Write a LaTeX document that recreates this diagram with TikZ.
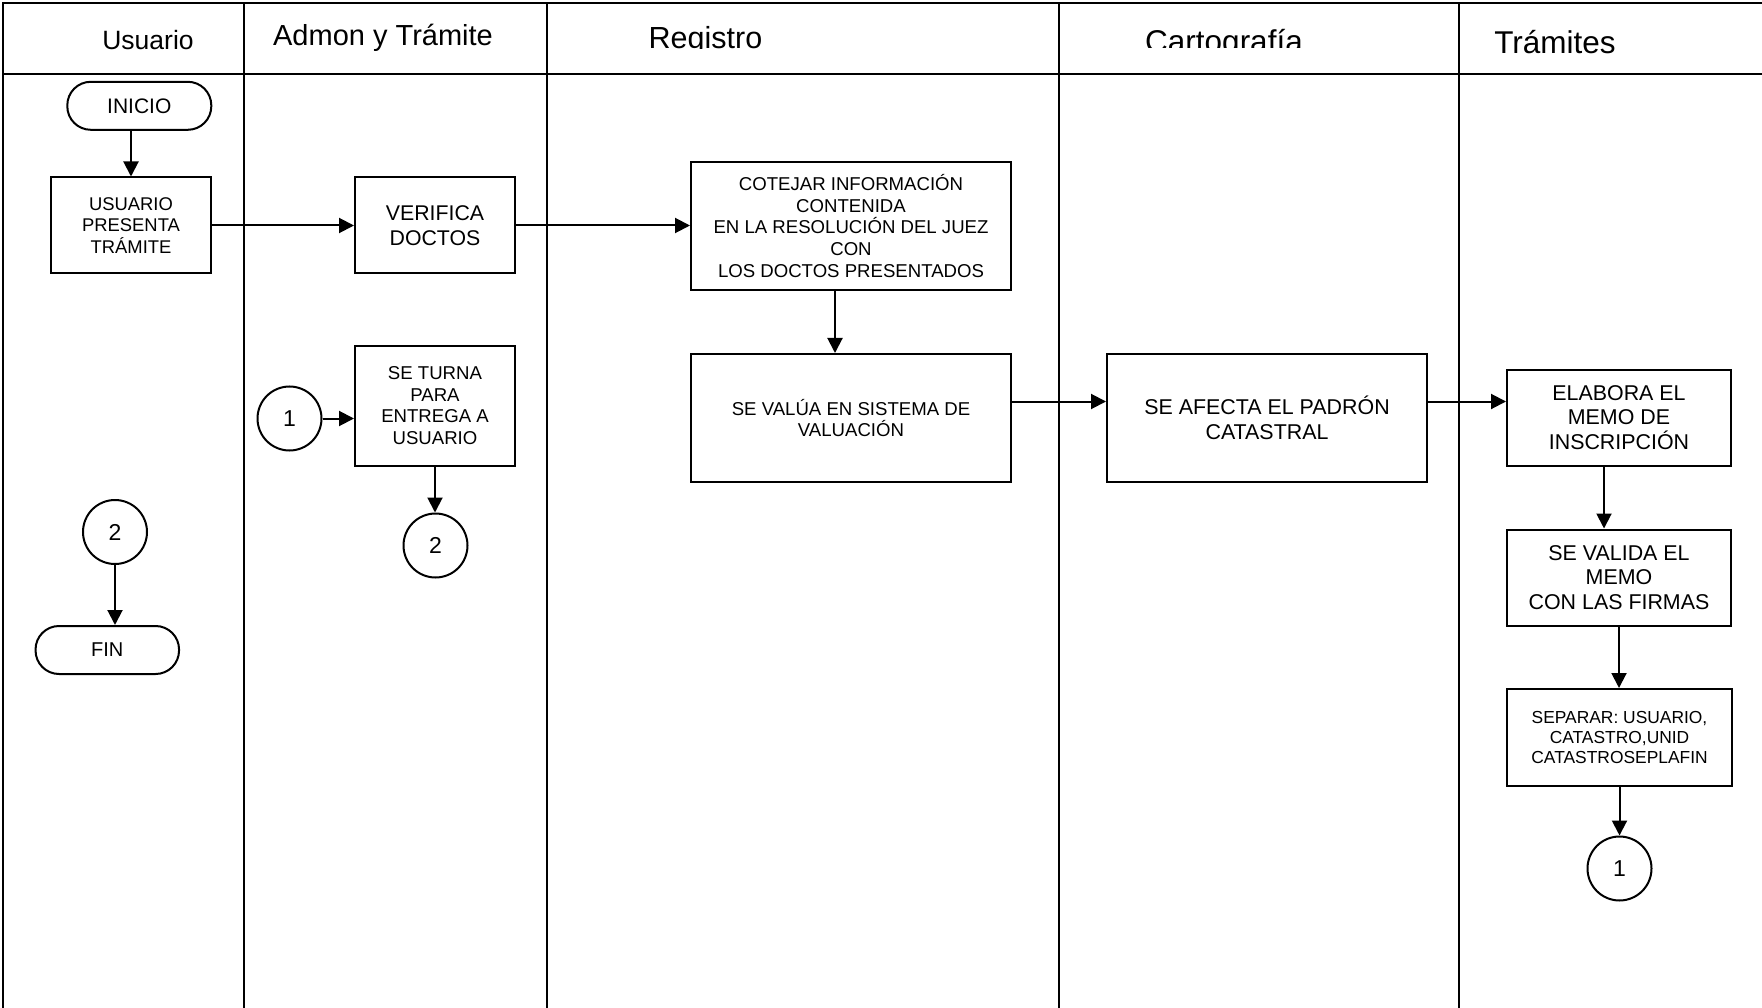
\documentclass[tikz,border=0pt]{standalone}
\usepackage{fontspec}
\setmainfont{Liberation Sans}
\usetikzlibrary{arrows.meta}
\newcommand{\fs}[2]{\fontsize{#1}{#2}\selectfont}
\newcommand{\dn}[1]{\raisebox{-3pt}{#1}}
\tikzset{
  lane/.style={line width=2pt},
  pbox/.style={draw, line width=2pt, rectangle, align=center, inner sep=0pt},
  term/.style={draw, line width=2pt, rectangle, rounded corners=23.5pt, align=center, inner sep=0pt, minimum width=144pt, minimum height=48pt},
  conn/.style={draw, line width=2pt, circle, inner sep=0pt, minimum size=64pt, font=\fs{23}{26}},
  flow/.style={line width=2pt, -{Triangle[length=15pt,width=15pt]}},
  hdr/.style={anchor=base, inner sep=0pt}
}
\begin{document}
\begin{tikzpicture}[x=1pt,y=-1pt]
\useasboundingbox (0,0) rectangle (1762,1008);
% lanes
\draw[lane] (1762,3) -- (3,3) -- (3,1008);
\draw[lane] (3,74) -- (1762,74);
\foreach \xx in {243.5,547,1059,1459} \draw[lane] (\xx,3) -- (\xx,1008);
% headers
\node[hdr, font=\fs{26.5}{30}] (h1) at (148,50) {Usuario};
\node[hdr, font=\fs{29}{32}] (h2) at (383,46) {Admon y Trámite};
\begin{scope}
\clip (548,4) rectangle (1058,49);
\node[hdr, font=\fs{30.5}{34}] (h3) at (705.5,48.3) {Registro};
\end{scope}
\begin{scope}
\clip (1060,4) rectangle (1458,47.5);
\node[hdr, font=\fs{31.5}{35}] (h4) at (1224,52.7) {Cartografía};
\end{scope}
\node[hdr, font=\fs{31.5}{35}] (h5) at (1555,53.3) {Trámites};
% nodes
\node[term, font=\fs{21}{24}] (inicio) at (139.3,105.8) {\dn{INICIO}};
\node[pbox, minimum width=160pt, minimum height=96pt, font=\fs{18.4}{21.2}] (usr) at (131,225.5) {USUARIO\\PRESENTA\\TRÁMITE};
\node[pbox, minimum width=160pt, minimum height=96pt, font=\fs{21.3}{24.7}] (verif) at (435,225.5) {VERIFICA\\DOCTOS};
\node[pbox, minimum width=320pt, minimum height=128pt, font=\fs{18.6}{21.6}] (cotejar) at (851,226) {COTEJAR INFORMACIÓN\\CONTENIDA\\EN LA RESOLUCIÓN DEL JUEZ\\CON\\LOS DOCTOS PRESENTADOS};
\node[pbox, minimum width=320pt, minimum height=128pt, font=\fs{18.6}{21.6}] (valua) at (851,418) {SE VALÚA EN SISTEMA DE\\VALUACIÓN};
\node[pbox, minimum width=320pt, minimum height=128pt, font=\fs{21.4}{24.7}] (afecta) at (1267,418) {SE AFECTA EL PADRÓN\\CATASTRAL};
\node[pbox, minimum width=224pt, minimum height=96pt, font=\fs{21.4}{24.7}] (elabora) at (1619,417.5) {ELABORA EL\\MEMO DE\\INSCRIPCIÓN};
\node[pbox, minimum width=224pt, minimum height=96pt, font=\fs{21.4}{24.7}] (valida) at (1619,577.5) {SE VALIDA EL\\MEMO\\CON LAS FIRMAS};
\node[pbox, minimum width=225pt, minimum height=97pt, font=\fs{17.4}{20.2}] (separar) at (1619.5,737.5) {SEPARAR: USUARIO,\\CATASTRO,UNID\\CATASTROSEPLAFIN};
\node[conn] (c1r) at (1619.5,868.5) {\dn{1}};
\node[conn] (c1l) at (289.5,418.5) {\dn{1}};
\node[pbox, minimum width=160pt, minimum height=120pt, font=\fs{18.6}{21.6}] (turna) at (435,405.7) {SE TURNA\\PARA\\ENTREGA A\\USUARIO};
\node[conn] (c2a) at (435.5,545.5) {\dn{2}};
\node[conn] (c2u) at (115,532) {\dn{2}};
\node[term, minimum width=143.5pt, font=\fs{20}{24}] (fin) at (107.3,650) {\dn{FIN}};
% connectors
\draw[flow] (inicio.south -| usr.north) -- (usr.north);
\draw[flow] (usr.east) -- (verif.west);
\draw[flow] (verif.east) -- (verif.east -| cotejar.west);
\draw[flow] ([xshift=-16pt]cotejar.south) -- ([xshift=-16pt]valua.north);
\draw[flow] ([yshift=16.5pt]valua.east) -- ([yshift=16.5pt]valua.east -| afecta.west);
\draw[flow] ([yshift=16.5pt]afecta.east) -- ([yshift=16.5pt]afecta.east -| elabora.west);
\draw[flow] ([xshift=-15pt]elabora.south) -- ([xshift=-15pt]elabora.south |- valida.north);
\draw[flow] (valida.south) -- (valida.south |- separar.north);
\draw[flow] (separar.south) -- (separar.south |- c1r.north);
\draw[flow] (c1l.east) -- (c1l.east -| turna.west);
\draw[flow] (turna.south) -- (turna.south |- c2a.north);
\draw[flow] (c2u.south) -- (c2u.south |- fin.north);
\end{tikzpicture}
\end{document}
